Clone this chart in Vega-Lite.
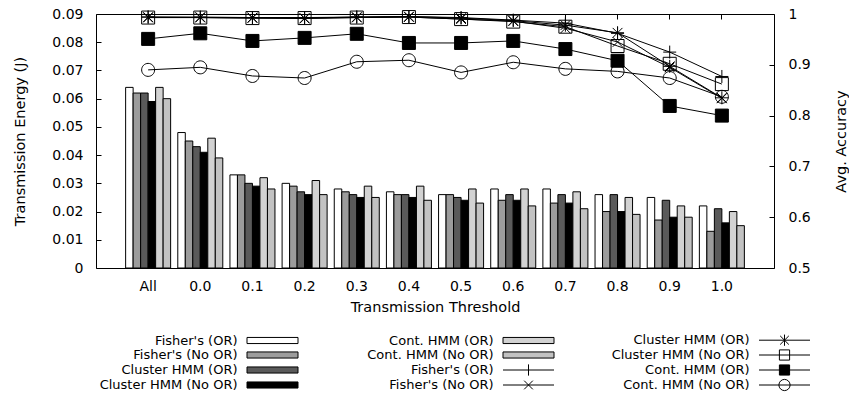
{
  "$schema": "https://vega.github.io/schema/vega-lite/v6.json",
  "width": 678,
  "height": 254,
  "autosize": {"type": "none"},
  "padding": {"left": 96, "top": 14, "right": 75, "bottom": 132},
  "background": "white",
  "config": {
    "font": "DejaVu Sans",
    "view": {"stroke": "black", "strokeWidth": 1},
    "axis": {"grid": false, "domain": false, "labelFontSize": 14, "titleFontSize": 14.5, "titleFontWeight": "normal", "labelColor": "black", "titleColor": "black", "tickColor": "black", "tickSize": -5, "tickWidth": 1, "labelFont": "DejaVu Sans", "titleFont": "DejaVu Sans"}
  },
  "datasets": {
    "bars": [
      {"threshold": "All", "key": "b1|Fisher's (OR)", "energy": 0.064},
      {"threshold": "All", "key": "b2|Fisher's (No OR)", "energy": 0.062},
      {"threshold": "All", "key": "b3|Cluster HMM (OR)", "energy": 0.062},
      {"threshold": "All", "key": "b4|Cluster HMM (No OR)", "energy": 0.059},
      {"threshold": "All", "key": "b5|Cont. HMM (OR)", "energy": 0.064},
      {"threshold": "All", "key": "b6|Cont. HMM (No OR)", "energy": 0.060},
      {"threshold": "0.0", "key": "b1|Fisher's (OR)", "energy": 0.048},
      {"threshold": "0.0", "key": "b2|Fisher's (No OR)", "energy": 0.045},
      {"threshold": "0.0", "key": "b3|Cluster HMM (OR)", "energy": 0.043},
      {"threshold": "0.0", "key": "b4|Cluster HMM (No OR)", "energy": 0.041},
      {"threshold": "0.0", "key": "b5|Cont. HMM (OR)", "energy": 0.046},
      {"threshold": "0.0", "key": "b6|Cont. HMM (No OR)", "energy": 0.039},
      {"threshold": "0.1", "key": "b1|Fisher's (OR)", "energy": 0.033},
      {"threshold": "0.1", "key": "b2|Fisher's (No OR)", "energy": 0.033},
      {"threshold": "0.1", "key": "b3|Cluster HMM (OR)", "energy": 0.030},
      {"threshold": "0.1", "key": "b4|Cluster HMM (No OR)", "energy": 0.029},
      {"threshold": "0.1", "key": "b5|Cont. HMM (OR)", "energy": 0.032},
      {"threshold": "0.1", "key": "b6|Cont. HMM (No OR)", "energy": 0.028},
      {"threshold": "0.2", "key": "b1|Fisher's (OR)", "energy": 0.030},
      {"threshold": "0.2", "key": "b2|Fisher's (No OR)", "energy": 0.029},
      {"threshold": "0.2", "key": "b3|Cluster HMM (OR)", "energy": 0.027},
      {"threshold": "0.2", "key": "b4|Cluster HMM (No OR)", "energy": 0.026},
      {"threshold": "0.2", "key": "b5|Cont. HMM (OR)", "energy": 0.031},
      {"threshold": "0.2", "key": "b6|Cont. HMM (No OR)", "energy": 0.026},
      {"threshold": "0.3", "key": "b1|Fisher's (OR)", "energy": 0.028},
      {"threshold": "0.3", "key": "b2|Fisher's (No OR)", "energy": 0.027},
      {"threshold": "0.3", "key": "b3|Cluster HMM (OR)", "energy": 0.026},
      {"threshold": "0.3", "key": "b4|Cluster HMM (No OR)", "energy": 0.025},
      {"threshold": "0.3", "key": "b5|Cont. HMM (OR)", "energy": 0.029},
      {"threshold": "0.3", "key": "b6|Cont. HMM (No OR)", "energy": 0.025},
      {"threshold": "0.4", "key": "b1|Fisher's (OR)", "energy": 0.027},
      {"threshold": "0.4", "key": "b2|Fisher's (No OR)", "energy": 0.026},
      {"threshold": "0.4", "key": "b3|Cluster HMM (OR)", "energy": 0.026},
      {"threshold": "0.4", "key": "b4|Cluster HMM (No OR)", "energy": 0.025},
      {"threshold": "0.4", "key": "b5|Cont. HMM (OR)", "energy": 0.029},
      {"threshold": "0.4", "key": "b6|Cont. HMM (No OR)", "energy": 0.024},
      {"threshold": "0.5", "key": "b1|Fisher's (OR)", "energy": 0.026},
      {"threshold": "0.5", "key": "b2|Fisher's (No OR)", "energy": 0.026},
      {"threshold": "0.5", "key": "b3|Cluster HMM (OR)", "energy": 0.025},
      {"threshold": "0.5", "key": "b4|Cluster HMM (No OR)", "energy": 0.024},
      {"threshold": "0.5", "key": "b5|Cont. HMM (OR)", "energy": 0.028},
      {"threshold": "0.5", "key": "b6|Cont. HMM (No OR)", "energy": 0.023},
      {"threshold": "0.6", "key": "b1|Fisher's (OR)", "energy": 0.028},
      {"threshold": "0.6", "key": "b2|Fisher's (No OR)", "energy": 0.024},
      {"threshold": "0.6", "key": "b3|Cluster HMM (OR)", "energy": 0.026},
      {"threshold": "0.6", "key": "b4|Cluster HMM (No OR)", "energy": 0.024},
      {"threshold": "0.6", "key": "b5|Cont. HMM (OR)", "energy": 0.028},
      {"threshold": "0.6", "key": "b6|Cont. HMM (No OR)", "energy": 0.022},
      {"threshold": "0.7", "key": "b1|Fisher's (OR)", "energy": 0.028},
      {"threshold": "0.7", "key": "b2|Fisher's (No OR)", "energy": 0.023},
      {"threshold": "0.7", "key": "b3|Cluster HMM (OR)", "energy": 0.026},
      {"threshold": "0.7", "key": "b4|Cluster HMM (No OR)", "energy": 0.023},
      {"threshold": "0.7", "key": "b5|Cont. HMM (OR)", "energy": 0.027},
      {"threshold": "0.7", "key": "b6|Cont. HMM (No OR)", "energy": 0.021},
      {"threshold": "0.8", "key": "b1|Fisher's (OR)", "energy": 0.026},
      {"threshold": "0.8", "key": "b2|Fisher's (No OR)", "energy": 0.020},
      {"threshold": "0.8", "key": "b3|Cluster HMM (OR)", "energy": 0.026},
      {"threshold": "0.8", "key": "b4|Cluster HMM (No OR)", "energy": 0.020},
      {"threshold": "0.8", "key": "b5|Cont. HMM (OR)", "energy": 0.025},
      {"threshold": "0.8", "key": "b6|Cont. HMM (No OR)", "energy": 0.019},
      {"threshold": "0.9", "key": "b1|Fisher's (OR)", "energy": 0.025},
      {"threshold": "0.9", "key": "b2|Fisher's (No OR)", "energy": 0.017},
      {"threshold": "0.9", "key": "b3|Cluster HMM (OR)", "energy": 0.024},
      {"threshold": "0.9", "key": "b4|Cluster HMM (No OR)", "energy": 0.018},
      {"threshold": "0.9", "key": "b5|Cont. HMM (OR)", "energy": 0.022},
      {"threshold": "0.9", "key": "b6|Cont. HMM (No OR)", "energy": 0.018},
      {"threshold": "1.0", "key": "b1|Fisher's (OR)", "energy": 0.022},
      {"threshold": "1.0", "key": "b2|Fisher's (No OR)", "energy": 0.013},
      {"threshold": "1.0", "key": "b3|Cluster HMM (OR)", "energy": 0.021},
      {"threshold": "1.0", "key": "b4|Cluster HMM (No OR)", "energy": 0.016},
      {"threshold": "1.0", "key": "b5|Cont. HMM (OR)", "energy": 0.020},
      {"threshold": "1.0", "key": "b6|Cont. HMM (No OR)", "energy": 0.015}
    ],
    "lines": [
      {"threshold": "All", "key": "l1|Fisher's (OR)", "acc": 0.994},
      {"threshold": "0.0", "key": "l1|Fisher's (OR)", "acc": 0.993},
      {"threshold": "0.1", "key": "l1|Fisher's (OR)", "acc": 0.993},
      {"threshold": "0.2", "key": "l1|Fisher's (OR)", "acc": 0.993},
      {"threshold": "0.3", "key": "l1|Fisher's (OR)", "acc": 0.994},
      {"threshold": "0.4", "key": "l1|Fisher's (OR)", "acc": 0.995},
      {"threshold": "0.5", "key": "l1|Fisher's (OR)", "acc": 0.993},
      {"threshold": "0.6", "key": "l1|Fisher's (OR)", "acc": 0.988},
      {"threshold": "0.7", "key": "l1|Fisher's (OR)", "acc": 0.982},
      {"threshold": "0.8", "key": "l1|Fisher's (OR)", "acc": 0.962},
      {"threshold": "0.9", "key": "l1|Fisher's (OR)", "acc": 0.925},
      {"threshold": "1.0", "key": "l1|Fisher's (OR)", "acc": 0.877},
      {"threshold": "All", "key": "l2|Fisher's (No OR)", "acc": 0.993},
      {"threshold": "0.0", "key": "l2|Fisher's (No OR)", "acc": 0.993},
      {"threshold": "0.1", "key": "l2|Fisher's (No OR)", "acc": 0.992},
      {"threshold": "0.2", "key": "l2|Fisher's (No OR)", "acc": 0.991},
      {"threshold": "0.3", "key": "l2|Fisher's (No OR)", "acc": 0.993},
      {"threshold": "0.4", "key": "l2|Fisher's (No OR)", "acc": 0.994},
      {"threshold": "0.5", "key": "l2|Fisher's (No OR)", "acc": 0.990},
      {"threshold": "0.6", "key": "l2|Fisher's (No OR)", "acc": 0.986},
      {"threshold": "0.7", "key": "l2|Fisher's (No OR)", "acc": 0.972},
      {"threshold": "0.8", "key": "l2|Fisher's (No OR)", "acc": 0.945},
      {"threshold": "0.9", "key": "l2|Fisher's (No OR)", "acc": 0.895},
      {"threshold": "1.0", "key": "l2|Fisher's (No OR)", "acc": 0.834},
      {"threshold": "All", "key": "l3|Cluster HMM (OR)", "acc": 0.994},
      {"threshold": "0.0", "key": "l3|Cluster HMM (OR)", "acc": 0.994},
      {"threshold": "0.1", "key": "l3|Cluster HMM (OR)", "acc": 0.993},
      {"threshold": "0.2", "key": "l3|Cluster HMM (OR)", "acc": 0.992},
      {"threshold": "0.3", "key": "l3|Cluster HMM (OR)", "acc": 0.994},
      {"threshold": "0.4", "key": "l3|Cluster HMM (OR)", "acc": 0.995},
      {"threshold": "0.5", "key": "l3|Cluster HMM (OR)", "acc": 0.992},
      {"threshold": "0.6", "key": "l3|Cluster HMM (OR)", "acc": 0.987},
      {"threshold": "0.7", "key": "l3|Cluster HMM (OR)", "acc": 0.978},
      {"threshold": "0.8", "key": "l3|Cluster HMM (OR)", "acc": 0.963},
      {"threshold": "0.9", "key": "l3|Cluster HMM (OR)", "acc": 0.897},
      {"threshold": "1.0", "key": "l3|Cluster HMM (OR)", "acc": 0.835},
      {"threshold": "All", "key": "l4|Cluster HMM (No OR)", "acc": 0.993},
      {"threshold": "0.0", "key": "l4|Cluster HMM (No OR)", "acc": 0.993},
      {"threshold": "0.1", "key": "l4|Cluster HMM (No OR)", "acc": 0.992},
      {"threshold": "0.2", "key": "l4|Cluster HMM (No OR)", "acc": 0.992},
      {"threshold": "0.3", "key": "l4|Cluster HMM (No OR)", "acc": 0.993},
      {"threshold": "0.4", "key": "l4|Cluster HMM (No OR)", "acc": 0.994},
      {"threshold": "0.5", "key": "l4|Cluster HMM (No OR)", "acc": 0.990},
      {"threshold": "0.6", "key": "l4|Cluster HMM (No OR)", "acc": 0.985},
      {"threshold": "0.7", "key": "l4|Cluster HMM (No OR)", "acc": 0.975},
      {"threshold": "0.8", "key": "l4|Cluster HMM (No OR)", "acc": 0.937},
      {"threshold": "0.9", "key": "l4|Cluster HMM (No OR)", "acc": 0.902},
      {"threshold": "1.0", "key": "l4|Cluster HMM (No OR)", "acc": 0.862},
      {"threshold": "All", "key": "l5|Cont. HMM (OR)", "acc": 0.951},
      {"threshold": "0.0", "key": "l5|Cont. HMM (OR)", "acc": 0.962},
      {"threshold": "0.1", "key": "l5|Cont. HMM (OR)", "acc": 0.947},
      {"threshold": "0.2", "key": "l5|Cont. HMM (OR)", "acc": 0.953},
      {"threshold": "0.3", "key": "l5|Cont. HMM (OR)", "acc": 0.961},
      {"threshold": "0.4", "key": "l5|Cont. HMM (OR)", "acc": 0.943},
      {"threshold": "0.5", "key": "l5|Cont. HMM (OR)", "acc": 0.943},
      {"threshold": "0.6", "key": "l5|Cont. HMM (OR)", "acc": 0.947},
      {"threshold": "0.7", "key": "l5|Cont. HMM (OR)", "acc": 0.931},
      {"threshold": "0.8", "key": "l5|Cont. HMM (OR)", "acc": 0.908},
      {"threshold": "0.9", "key": "l5|Cont. HMM (OR)", "acc": 0.819},
      {"threshold": "1.0", "key": "l5|Cont. HMM (OR)", "acc": 0.800},
      {"threshold": "All", "key": "l6|Cont. HMM (No OR)", "acc": 0.890},
      {"threshold": "0.0", "key": "l6|Cont. HMM (No OR)", "acc": 0.895},
      {"threshold": "0.1", "key": "l6|Cont. HMM (No OR)", "acc": 0.878},
      {"threshold": "0.2", "key": "l6|Cont. HMM (No OR)", "acc": 0.874},
      {"threshold": "0.3", "key": "l6|Cont. HMM (No OR)", "acc": 0.906},
      {"threshold": "0.4", "key": "l6|Cont. HMM (No OR)", "acc": 0.909},
      {"threshold": "0.5", "key": "l6|Cont. HMM (No OR)", "acc": 0.885},
      {"threshold": "0.6", "key": "l6|Cont. HMM (No OR)", "acc": 0.905},
      {"threshold": "0.7", "key": "l6|Cont. HMM (No OR)", "acc": 0.892},
      {"threshold": "0.8", "key": "l6|Cont. HMM (No OR)", "acc": 0.887},
      {"threshold": "0.9", "key": "l6|Cont. HMM (No OR)", "acc": 0.874},
      {"threshold": "1.0", "key": "l6|Cont. HMM (No OR)", "acc": 0.837}
    ]
  },
  "layer": [
    {
      "data": {"name": "bars"},
      "mark": {"type": "bar", "stroke": "black", "strokeWidth": 1},
      "encoding": {
        "x": {"field": "threshold", "type": "nominal",
          "scale": {"domain": ["All", "0.0", "0.1", "0.2", "0.3", "0.4", "0.5", "0.6", "0.7", "0.8", "0.9", "1.0"], "paddingInner": 0.137, "paddingOuter": 0.568},
          "axis": {"orient": "bottom", "title": "Transmission Threshold", "labelAngle": 0, "labelPadding": 16, "titlePadding": 7}},
        "xOffset": {"field": "key", "type": "nominal",
          "scale": {"domain": ["b1|Fisher's (OR)", "b2|Fisher's (No OR)", "b3|Cluster HMM (OR)", "b4|Cluster HMM (No OR)", "b5|Cont. HMM (OR)", "b6|Cont. HMM (No OR)"], "paddingInner": 0, "paddingOuter": 0}},
        "y": {"field": "energy", "type": "quantitative",
          "scale": {"domain": [0, 0.09], "nice": false, "zero": true},
          "axis": {"orient": "left", "title": "Transmission Energy (J)", "values": [0, 0.01, 0.02, 0.03, 0.04, 0.05, 0.06, 0.07, 0.08, 0.09], "format": ".2~f", "labelPadding": 18, "titlePadding": 24}},
        "fill": {"field": "key", "type": "nominal",
          "scale": {"domain": ["b1|Fisher's (OR)", "b2|Fisher's (No OR)", "b3|Cluster HMM (OR)", "b4|Cluster HMM (No OR)", "b5|Cont. HMM (OR)", "b6|Cont. HMM (No OR)", "l1|Fisher's (OR)", "l2|Fisher's (No OR)", "l3|Cluster HMM (OR)", "l4|Cluster HMM (No OR)", "l5|Cont. HMM (OR)", "l6|Cont. HMM (No OR)"],
                    "range": ["white", "#9c9c9c", "#5a5a5a", "black", "#d2d2d2", "#c2c2c2", "transparent", "transparent", "transparent", "transparent", "black", "transparent"]},
          "legend": {"orient": "none", "legendX": 150.5, "legendY": 320, "title": null, "columns": 3, "gridAlign": "all", "columnPadding": 55, "rowPadding": -1, "padding": 0,
            "labelFontSize": 13, "labelFont": "DejaVu Sans", "labelColor": "black", "labelAlign": "right", "labelBaseline": "middle", "labelLimit": 400,
            "labelExpr": "slice(datum.label, 3)",
            "symbolStrokeColor": "black", "symbolStrokeWidth": 1, "symbolOpacity": 1,
            "encode": {
              "symbols": {"update": {"size": {"value": 2601}, "x": {"value": 26}, "y": {"value": 6}, "stroke": {"value": "black"}, "strokeWidth": {"value": 1}, "opacity": {"value": 1}}},
              "labels": {"update": {"x": {"value": -9}, "y": {"value": 6}}}
            }
          }
        }
      }
    },
    {
      "data": {"name": "lines"},
      "encoding": {
        "x": {"field": "threshold", "type": "nominal", "axis": {"orient": "top", "labels": false, "title": null}},
        "y": {"field": "acc", "type": "quantitative",
          "scale": {"domain": [0.5, 1], "nice": false, "zero": false},
          "axis": {"orient": "right", "title": "Avg. Accuracy", "values": [0.5, 0.6, 0.7, 0.8, 0.9, 1], "format": ".1~f", "titleAngle": 270, "labelPadding": 19, "titleX": 67, "titleY": 127, "titleAlign": "center", "titleBaseline": "middle"}}
      },
      "layer": [
        {
          "mark": {"type": "line", "stroke": "black", "strokeWidth": 1},
          "encoding": {"detail": {"field": "key"}, "order": {"value": null}}
        },
        {
          "transform": [{"filter": "false"}],
          "mark": {"type": "point", "opacity": 0},
          "encoding": {
            "fill": {"field": "key", "type": "nominal",
              "scale": {"domain": ["b1|Fisher's (OR)", "b2|Fisher's (No OR)", "b3|Cluster HMM (OR)", "b4|Cluster HMM (No OR)", "b5|Cont. HMM (OR)", "b6|Cont. HMM (No OR)", "l1|Fisher's (OR)", "l2|Fisher's (No OR)", "l3|Cluster HMM (OR)", "l4|Cluster HMM (No OR)", "l5|Cont. HMM (OR)", "l6|Cont. HMM (No OR)"]},
              "legend": {"orient": "none", "legendX": 150.5, "legendY": 320, "title": null, "columns": 3, "gridAlign": "all", "columnPadding": 55, "rowPadding": -1, "padding": 0,
                "labelFontSize": 13, "labelFont": "DejaVu Sans", "labelColor": "black", "labelAlign": "right", "labelBaseline": "middle", "labelLimit": 400,
                "labelExpr": "slice(datum.label, 3)",
                "symbolStrokeColor": "black", "symbolStrokeWidth": 1, "symbolOpacity": 1,
                "encode": {
                  "symbols": {"update": {"size": {"value": 2601}, "x": {"value": 26}, "y": {"value": 6}, "stroke": {"value": "black"}, "strokeWidth": {"value": 1}, "opacity": {"value": 1}}},
                  "labels": {"update": {"x": {"value": -9}, "y": {"value": 6}}}
                }
              }},
            "shape": {"field": "key", "type": "nominal",
              "scale": {"domain": ["b1|Fisher's (OR)", "b2|Fisher's (No OR)", "b3|Cluster HMM (OR)", "b4|Cluster HMM (No OR)", "b5|Cont. HMM (OR)", "b6|Cont. HMM (No OR)", "l1|Fisher's (OR)", "l2|Fisher's (No OR)", "l3|Cluster HMM (OR)", "l4|Cluster HMM (No OR)", "l5|Cont. HMM (OR)", "l6|Cont. HMM (No OR)"],
                        "range": ["M-1,-0.12H1V0.12H-1Z", "M-1,-0.12H1V0.12H-1Z", "M-1,-0.12H1V0.12H-1Z", "M-1,-0.12H1V0.12H-1Z", "M-1,-0.12H1V0.12H-1Z", "M-1,-0.12H1V0.12H-1Z",
                                  "M-1,0H1M0,-0.22V0.22",
                                  "M-1,0H1M-0.17,-0.17L0.17,0.17M-0.17,0.17L0.17,-0.17",
                                  "M-1,0H1M0,-0.22V0.22M-0.17,-0.17L0.17,0.17M-0.17,0.17L0.17,-0.17",
                                  "M-1,0H1M-0.2,-0.2H0.2V0.2H-0.2Z",
                                  "M-1,0H1M-0.2,-0.2H0.2V0.2H-0.2Z",
                                  "M-1,0H1M-0.22,0A0.22,0.22 0 1,0 0.22,0A0.22,0.22 0 1,0 -0.22,0Z"]},
              "legend": {"orient": "none", "legendX": 150.5, "legendY": 320, "title": null, "columns": 3, "gridAlign": "all", "columnPadding": 55, "rowPadding": -1, "padding": 0,
                "labelFontSize": 13, "labelFont": "DejaVu Sans", "labelColor": "black", "labelAlign": "right", "labelBaseline": "middle", "labelLimit": 400,
                "labelExpr": "slice(datum.label, 3)",
                "symbolStrokeColor": "black", "symbolStrokeWidth": 1, "symbolOpacity": 1,
                "encode": {
                  "symbols": {"update": {"size": {"value": 2601}, "x": {"value": 26}, "y": {"value": 6}, "stroke": {"value": "black"}, "strokeWidth": {"value": 1}, "opacity": {"value": 1}}},
                  "labels": {"update": {"x": {"value": -9}, "y": {"value": 6}}}
                }
              }}
          }
        },
        {
          "transform": [{"filter": {"field": "key", "equal": "l1|Fisher's (OR)"}}],
          "mark": {"type": "point", "shape": "M-1,0H1M0,-1V1", "size": 169, "stroke": "black", "strokeWidth": 1, "fill": "transparent", "opacity": 1}
        },
        {
          "transform": [{"filter": {"field": "key", "equal": "l2|Fisher's (No OR)"}}],
          "mark": {"type": "point", "shape": "M-0.75,-0.75L0.75,0.75M-0.75,0.75L0.75,-0.75", "size": 169, "stroke": "black", "strokeWidth": 1, "fill": "transparent", "opacity": 1}
        },
        {
          "transform": [{"filter": {"field": "key", "equal": "l3|Cluster HMM (OR)"}}],
          "mark": {"type": "point", "shape": "M-1,0H1M0,-1V1M-0.75,-0.75L0.75,0.75M-0.75,0.75L0.75,-0.75", "size": 169, "stroke": "black", "strokeWidth": 1, "fill": "transparent", "opacity": 1}
        },
        {
          "transform": [{"filter": {"field": "key", "equal": "l4|Cluster HMM (No OR)"}}],
          "mark": {"type": "point", "shape": "M-1,-1H1V1H-1Z", "size": 169, "stroke": "black", "strokeWidth": 1, "fill": "transparent", "opacity": 1}
        },
        {
          "transform": [{"filter": {"field": "key", "equal": "l5|Cont. HMM (OR)"}}],
          "mark": {"type": "point", "shape": "M-1,-1H1V1H-1Z", "size": 169, "stroke": "black", "strokeWidth": 1, "fill": "black", "filled": true, "opacity": 1}
        },
        {
          "transform": [{"filter": {"field": "key", "equal": "l6|Cont. HMM (No OR)"}}],
          "mark": {"type": "point", "shape": "M-1,0A1,1 0 1,0 1,0A1,1 0 1,0 -1,0Z", "size": 169, "stroke": "black", "strokeWidth": 1, "fill": "transparent", "opacity": 1}
        }
      ]
    }
  ],
  "resolve": {"scale": {"y": "independent"}, "axis": {"x": "independent"}}
}
